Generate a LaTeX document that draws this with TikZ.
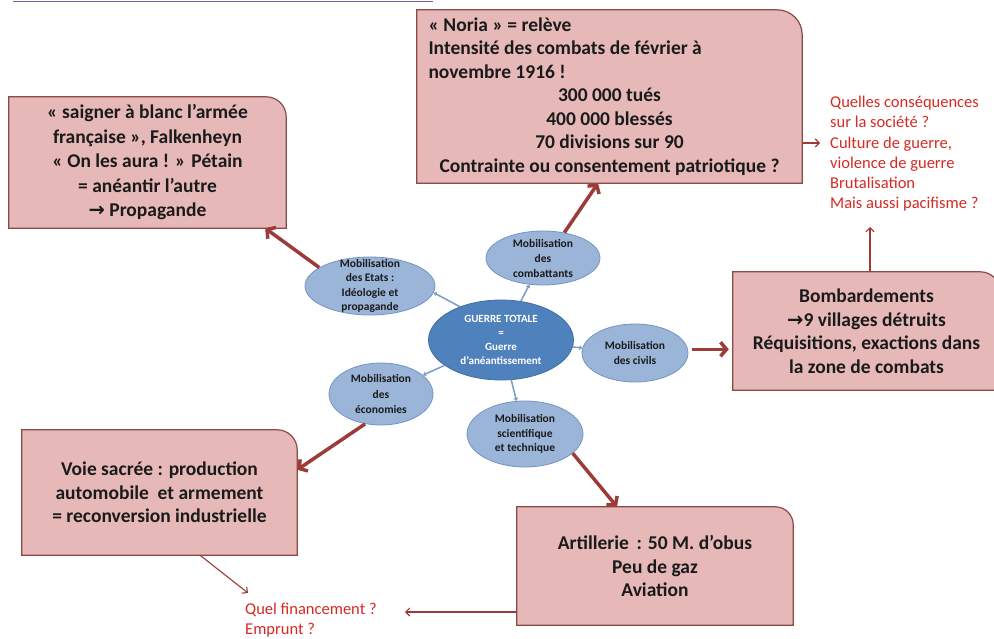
\documentclass[tikz,border=0pt]{standalone}
\usepackage{fontspec}
\setmainfont{Carlito}
\newfontfamily\symfont{DejaVu Sans}
\usetikzlibrary{shapes.geometric,arrows.meta,backgrounds,calc}
\definecolor{boxfill}{HTML}{E6B9B8}
\definecolor{boxline}{HTML}{8A4A48}
\definecolor{arrowred}{HTML}{9C3B38}
\definecolor{qred}{HTML}{D62A22}
\definecolor{ellfill}{HTML}{9BB5D8}
\definecolor{ellline}{HTML}{7394C4}
\definecolor{cenfill}{HTML}{4F81BD}
\definecolor{cenline}{HTML}{41709F}
\definecolor{smallarr}{HTML}{7C9CC8}
\definecolor{titleline}{HTML}{7A5BA6}
\definecolor{inktext}{HTML}{1A1A1A}
\newcommand\pinkshape[2]{%
  \filldraw[fill=boxfill,draw=boxline,line width=1.2pt]
    (#1.south west) -- (#1.north west) -- ([xshift=-#2]#1.north east)
    arc[start angle=90,end angle=0,radius=#2] -- (#1.south east) -- cycle;}
\begin{document}
\begin{tikzpicture}[x=1pt,y=-1pt,
  boxtext/.style={rectangle,inner sep=0pt,align=center,text=inktext,
    font=\fontsize{19.5}{23.5}\selectfont\bfseries},
  ell/.style={ellipse,inner sep=0pt,fill=ellfill,draw=ellline,line width=0.8pt},
  cen/.style={ellipse,inner sep=0pt,fill=cenfill,draw=cenline,line width=0.8pt},
  elltext/.style={inner sep=0pt,align=center,text=inktext,
    font=\fontsize{11.5}{14.5}\selectfont\bfseries},
  centext/.style={inner sep=0pt,align=center,text=white,
    font=\fontsize{11}{14}\selectfont\bfseries},
  bigarrow/.style={draw=arrowred,line width=3.5pt,-{Straight Barb[length=6pt,width=14pt]}},
  thinarrow/.style={draw=arrowred,line width=1.1pt,-{Straight Barb[length=4pt,width=8pt]}},
  smallarrow/.style={draw=smallarr,line width=1.5pt,-{Triangle[length=3pt,width=4.5pt]}},
  question/.style={inner sep=0pt,align=left,text=qred,anchor=north west,
    font=\fontsize{16.5}{20.2}\selectfont}]
\useasboundingbox (0,0) rectangle (994,638);
\clip (0,0) rectangle (994,638);

\draw[titleline,line width=1.6pt] (13,1.5) -- (433,1.5);

% boxes
\node[boxtext,minimum width=277pt,minimum height=131pt,
  font=\fontsize{19.5}{24.5}\selectfont\bfseries] (propag) at (147.5,162.5)
  {« saigner à blanc l'armée\\ française », Falkenheyn\\ « On les aura ! » Pétain\\ = anéantir l'autre\\ {\symfont →} Propagande};
\node[boxtext,minimum width=385pt,minimum height=173pt,text width=362pt,align=left] (noria) at (609.5,96.5)
  {\spaceskip=0pt\xspaceskip=0pt
   « Noria » = relève\\Intensité des combats de février à\\novembre 1916 !\par
   {\centering 300 000 tués\\400 000 blessés\\70 divisions sur 90\\Contrainte ou consentement patriotique ?\par}};
\node[boxtext,minimum width=267pt,minimum height=118pt] (bomb) at (866.5,331)
  {Bombardements\\{\symfont →}9 villages détruits\\Réquisitions, exactions dans\\la zone de combats};
\node[boxtext,minimum width=275pt,minimum height=125pt] (voie) at (159.5,492.5)
  {Voie sacrée : production\\automobile \ et armement\\= reconversion industrielle};
\node[boxtext,minimum width=276pt,minimum height=118pt] (artil) at (655,566)
  {Artillerie \,: 50 M. d'obus\\Peu de gaz\\Aviation};

% questions
\node[question] (conseq) at (830,96)
  {Quelles conséquences\\sur la société ?\\Culture de guerre,\\violence de guerre\\Brutalisation\\Mais aussi pacifisme ?};
\node[question] (financ) at (245,603) {Quel financement ?\\Emprunt ?};

% ellipses
\node[cen,minimum width=145pt,minimum height=80pt] (total) at (501,340) {};
\node[centext] (totalT) at (total) {GUERRE TOTALE\\=\\Guerre\\d'anéantissement};
\node[ell,minimum width=130pt,minimum height=58pt] (etats) at (370,286) {};
\node[elltext] (etatsT) at (etats) {Mobilisation\\des Etats :\\Idéologie et\\propagande};
\node[ell,minimum width=114pt,minimum height=54pt] (comb) at (543,258) {};
\node[elltext,font=\fontsize{11.5}{15}\selectfont\bfseries] (combT) at (comb) {Mobilisation\\des\\combattants};
\node[ell,minimum width=106pt,minimum height=58pt] (civils) at (635,353) {};
\node[elltext] (civilsT) at (civils) {Mobilisation\\des civils};
\node[ell,minimum width=104pt,minimum height=62pt] (econ) at (381,394) {};
\node[elltext,font=\fontsize{11.5}{15.5}\selectfont\bfseries] (econT) at (econ) {Mobilisation\\des\\économies};
\node[ell,minimum width=116pt,minimum height=66pt] (sci) at (525,434) {};
\node[elltext] (sciT) at (sci) {Mobilisation\\scientifique\\et technique};

% small arrows from the centre
\draw[smallarrow] (total.141) -- (etats.-6);
\draw[smallarrow] (total) -- (comb);
\draw[smallarrow] (total) -- (civils);
\draw[smallarrow] (total) -- (econ);
\draw[smallarrow] (total) -- (sci);

% big arrows
\draw[bigarrow] (etats.160) -- ([xshift=-21pt]propag.south east);
\draw[bigarrow] (comb.50) -- ([xshift=-11.5pt]noria.south);
\draw[bigarrow,shorten <=4pt,shorten >=4pt] (civils.4) -- (bomb.west |- civils.4);
\draw[bigarrow] (econ.242) -- ([yshift=-40pt]voie.north east);
\draw[bigarrow] (sci.-22) -- ([xshift=-38pt]artil.north);

% thin arrows
\coordinate (conseqIn) at (820,143);
\draw[thinarrow] (noria.east |- conseqIn) -- (conseqIn);
\coordinate (conseqOut) at (870,227);
\draw[thinarrow] (bomb.north -| conseqOut) -- (conseqOut);
\coordinate (financeA) at (248,593);
\draw[thinarrow] ([xshift=40.5pt]voie.south) -- (financeA);
\coordinate (financeB) at (405,612);
\draw[thinarrow] (artil.west |- financeB) -- (financeB);

\begin{scope}[on background layer]
  \fill[white] (0,0) rectangle (994,638);
  \pinkshape{propag}{20pt}
  \pinkshape{noria}{25pt}
  \pinkshape{bomb}{20pt}
  \pinkshape{voie}{20pt}
  \pinkshape{artil}{18pt}
\end{scope}
\end{tikzpicture}
\end{document}
